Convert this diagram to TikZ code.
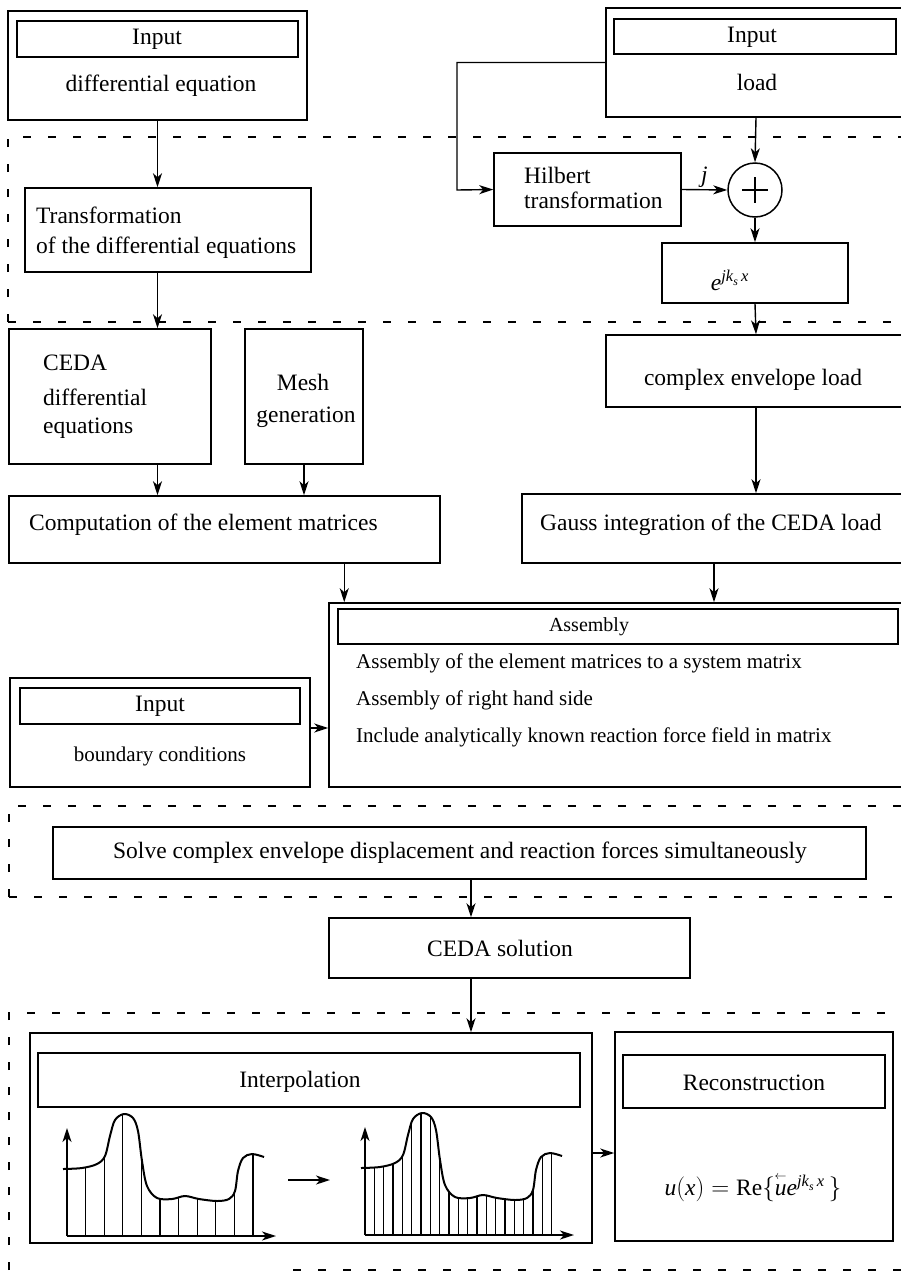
\documentclass[tikz,border=0pt]{standalone}
\usepackage{amsmath}
\usepackage{fontspec}
\setmainfont{Liberation Serif}
\usetikzlibrary{arrows.meta,calc}
\tikzset{
  box/.style={draw, rectangle, line width=1.5pt, inner sep=0pt},
  txt/.style={inner sep=0pt, font=\fontsize{23.5}{27}\selectfont},
  smalltxt/.style={inner sep=0pt, font=\fontsize{21}{25}\selectfont},
  hdrtxt/.style={inner sep=0pt, font=\fontsize{20}{24}\selectfont},
  arr/.style={line width=1.4pt, -{Stealth[length=14pt,width=9pt,inset=4pt]}},
  dsh/.style={line width=1.7pt, dash pattern=on 8pt off 17pt},
  curveline/.style={line width=2pt},
  thinline/.style={line width=1.2pt}
}
\newcommand{\mybox}[5]{\node[box, minimum width={#4-#2}, minimum height={#5-#3}] (#1) at ({(#2+#4)/2},{(#3+#5)/2}) {};}
\begin{document}
\begin{tikzpicture}[x=1pt,y=-1pt]
\useasboundingbox (0,0) rectangle (901,1277);

% dashed region borders
\draw[dsh] (8,322) -- (8,137) -- (901,137);
\draw[dsh] (8,322) -- (901,322);
\draw[dsh] (9,897) -- (9,806) -- (901,806);
\draw[dsh] (9,897) -- (901,897);
\draw[dsh] (9,1270) -- (9,1013) -- (901,1013);
\draw[dsh] (293,1270) -- (901,1270);

% top inputs
\mybox{inDE}{8}{11}{307}{120}
\mybox{inDEh}{17}{21}{298}{57}
\node[txt] (tIn1) at (157,39) {Input};
\node[txt] (tDE) at (161,86) {differential equation};

\mybox{inLoad}{606}{8}{906}{117}
\mybox{inLoadh}{614}{19}{896}{54}
\node[txt] (tIn2) at (752,37) {Input};
\node[txt] (tLoad) at (757,82) {load};

% transformation
\mybox{trans}{25}{188}{311}{272}
\node[txt, anchor=west] (tTr1) at (36,215) {Transformation};
\node[txt, anchor=west] (tTr2) at (36,248) {of the differential equations};

% Hilbert
\mybox{hilb}{494}{153}{681}{226}
\node[txt, anchor=west] (tHi1) at (524,175) {Hilbert};
\node[txt, anchor=west] (tHi2) at (524,200) {transformation};

\node[draw, circle, line width=1.5pt, minimum size=54pt, inner sep=0pt] (plus) at (755,190) {};
\draw[line width=1.3pt] ($(plus.center)+(-13,0)$) -- ($(plus.center)+(13,0)$);
\draw[line width=1.3pt] ($(plus.center)+(0,-13)$) -- ($(plus.center)+(0,13)$);

\mybox{ebox}{662}{243}{848}{303}
\node[txt] (tE) at (730,280) {$\textit{e}^{\textit{jk}_{\textit{s}}\,\textit{x}}$};

% second band
\mybox{ceda}{9}{329}{211}{464}
\node[txt, anchor=west] (tC1) at (43,363) {CEDA};
\node[txt, anchor=west] (tC2) at (43,397) {differential};
\node[txt, anchor=west] (tC3) at (43,428) {equations};

\mybox{mesh}{245}{329}{363}{464}
\node[txt] (tM1) at (303,382) {Mesh};
\node[txt] (tM2) at (306,417) {generation};

\mybox{cenv}{606}{335}{906}{407}
\node[txt] (tCE) at (753,380) {complex envelope load};

\mybox{comp}{9}{496}{440}{563}
\node[txt, anchor=west] (tComp) at (29,525) {Computation of the element matrices};

\mybox{gauss}{522}{494}{906}{563}
\node[txt, anchor=west] (tGauss) at (540,525) {Gauss integration of the CEDA load};

% assembly
\mybox{asm}{329}{603}{906}{787}
\mybox{asmh}{338}{609}{898}{644}
\node[hdrtxt] (tAsmH) at (589,627) {Assembly};
\node[smalltxt, anchor=west] (tA1) at (356,663) {Assembly of the element matrices to a system matrix};
\node[smalltxt, anchor=west] (tA2) at (356,700) {Assembly of right hand side};
\node[smalltxt, anchor=west] (tA3) at (356,737) {Include analytically known reaction force field in matrix};

\mybox{bc}{10}{678}{310}{787}
\mybox{bch}{20}{688}{300}{724}
\node[txt] (tIn3) at (160,706) {Input};
\node[smalltxt] (tBC) at (160,756) {boundary conditions};

% solve
\mybox{solve}{53}{827}{866}{879}
\node[txt] (tSolve) at (460,853) {Solve complex envelope displacement and reaction forces simultaneously};

\mybox{cedasol}{329}{918}{690}{978}
\node[txt] (tSol) at (500,948) {CEDA solution};

% interpolation / reconstruction
\mybox{interp}{30}{1033}{592}{1243}
\mybox{interph}{38}{1053}{580}{1107}
\node[txt] (tInterp) at (300,1082) {Interpolation};

\mybox{recon}{615}{1032}{893}{1241}
\mybox{reconh}{623}{1055}{885}{1108}
\node[txt] (tRec) at (754,1083) {Reconstruction};
\node[txt] (tFormula) at (753,1187) {$\textit{u}(\textit{x}) = \text{Re}\{\overset{\scriptscriptstyle\leftarrow}{\textit{u}}\textit{e}^{\textit{jk}_{\textit{s}}\,\textit{x}}\,\}$};

% plots
\foreach \ox/\stp/\n/\oy in {67/18.6/10/1236, 365/9.33/20/1235}{
  \begin{scope}[shift={(\ox,\oy)}]
    \begin{scope}
      \clip plot[smooth,tension=0.55] coordinates {(-4,-67) (15,-68) (30,-72) (38,-80) (43,-100) (48,-116) (57,-122) (66,-118) (71,-105) (75,-75) (80,-50) (90,-38) (105,-37) (118,-40) (132,-37) (150,-35) (162,-37) (168,-45) (171,-65) (176,-78) (185,-82) (197,-79)} -- (197,0) -- (-4,0) -- cycle;
      \foreach \k in {1,...,\n} \draw[thinline] (\k*\stp,0) -- (\k*\stp,-140);
    \end{scope}
    \draw[curveline] plot[smooth,tension=0.55] coordinates {(-4,-67) (15,-68) (30,-72) (38,-80) (43,-100) (48,-116) (57,-122) (66,-118) (71,-105) (75,-75) (80,-50) (90,-38) (105,-37) (118,-40) (132,-37) (150,-35) (162,-37) (168,-45) (171,-65) (176,-78) (185,-82) (197,-79)};
    \draw[arr] (0,0) -- (0,-108);
    \draw[arr] (0,0) -- (209,0);
  \end{scope}
}
\coordinate (m1) at (288,1180);
\coordinate (m2) at (330,1180);
\draw[arr] (m1) -- (m2);

% connectors
\draw[arr] (inDE.south) -- (inDE.south |- trans.north);
\draw[arr] (inLoad.south) -- (plus.north);
\coordinate (hk) at (457,190);
\draw[arr] (inLoad.west) -| (hk) -- (hilb.west);
\draw[arr] (hilb.east) -- node[above=2pt, inner sep=0pt, txt] (tj) {\textit{j}} (plus.west);
\draw[arr] (plus.south) -- (ebox.north);
\draw[arr] (ebox.south) -- (cenv.north);
\draw[arr] (inDE.south |- trans.south) -- (inDE.south |- ceda.north);
\draw[arr] (inDE.south |- ceda.south) -- (inDE.south |- comp.north);
\draw[arr] (mesh.south) -- (mesh.south |- comp.north);
\draw[arr] (cenv.south) -- (cenv.south |- gauss.north);
\draw[arr] ([xshift=16pt]asm.north west |- comp.south) -- ([xshift=16pt]asm.north west);
\draw[arr] (gauss.south) -- (gauss.south |- asm.north);
\coordinate (bcy) at (0,728);
\draw[arr] (bc.east |- bcy) -- (asm.west |- bcy);
\coordinate (ax) at (471,0);
\draw[arr] (ax |- solve.south) -- (ax |- cedasol.north);
\draw[arr] (ax |- cedasol.south) -- (ax |- interp.north);
\coordinate (ay) at (0,1153);
\draw[arr] (interp.east |- ay) -- (recon.west |- ay);
\end{tikzpicture}
\end{document}
